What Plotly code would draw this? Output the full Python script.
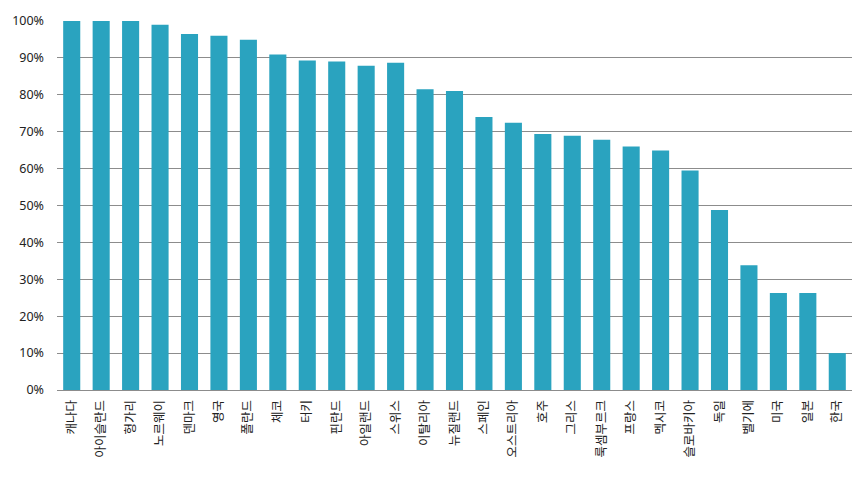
import plotly.graph_objects as go

countries = ["캐나다", "아이슬란드", "헝가리", "노르웨이", "덴마크", "영국", "폴란드", "체코", "터키",
             "핀란드", "아일랜드", "스위스", "이탈리아", "뉴질랜드", "스페인", "오스트리아", "호주",
             "그리스", "룩셈부르크", "프랑스", "멕시코", "슬로바키아", "독일", "벨기에", "미국", "일본", "한국"]
values = [100, 100, 100, 99, 96.5, 96, 94.9, 90.9, 89.3,
          89, 87.9, 88.7, 81.5, 81, 74, 72.4, 69.4,
          68.9, 67.8, 66, 64.9, 59.5, 48.8, 33.8, 26.3, 26.3, 10]
ytick_vals = [0, 10, 20, 30, 40, 50, 60, 70, 80, 90, 100]
ytick_text = [f"{v}%" for v in ytick_vals]

fig = go.Figure(go.Bar(x=countries, y=values, marker=dict(color="#2AA3BF", line=dict(width=0))))

fig.update_layout(
    width=866, height=477,
    margin=dict(l=57, r=14, t=17, b=87),
    paper_bgcolor="white", plot_bgcolor="white",
    bargap=0.42,
    showlegend=False,
    font=dict(family="Noto Sans CJK KR, Noto Sans, sans-serif", color="#222", size=12),
)
fig.update_yaxes(
    range=[0, 100], tickvals=ytick_vals, ticktext=ytick_text,
    showgrid=True, gridcolor="#8c8c8c", gridwidth=1,
    ticks="", ticklabelstandoff=12,
    tickfont=dict(family="Noto Sans, sans-serif", size=12.5, color="#222"),
    zeroline=False, showline=False,
)
fig.update_xaxes(
    tickangle=-90, showline=True, linecolor="#8c8c8c", linewidth=1,
    tickfont=dict(family="Noto Sans CJK KR, sans-serif", size=12.5, color="#222"),
    ticks="", showgrid=False, ticklabelstandoff=4,
)

fig.write_html("out.html")
